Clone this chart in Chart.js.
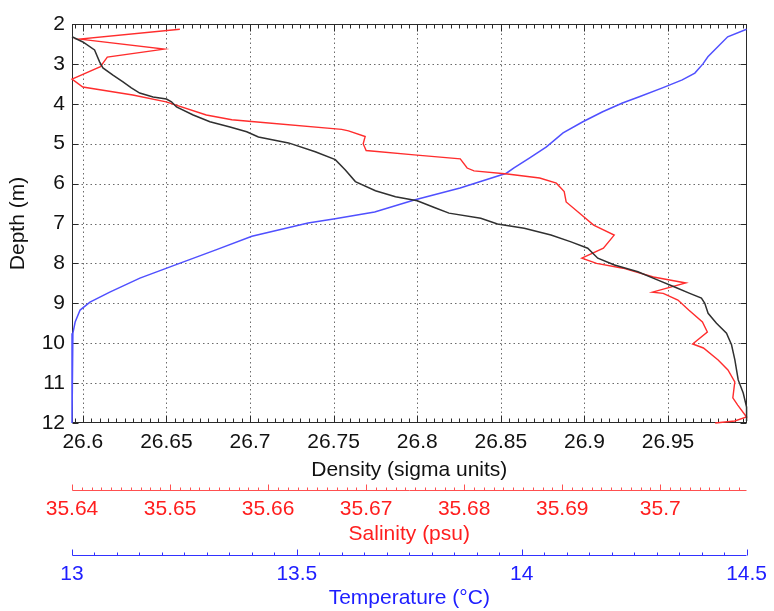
<!DOCTYPE html>
<html><head><meta charset="utf-8">
<script src="https://cdn.jsdelivr.net/npm/chart.js@4/dist/chart.umd.min.js"></script>
<style>html,body{margin:0;padding:0;background:#fff;}canvas{display:block;}</style>
</head><body>
<canvas id="c" width="774" height="611"></canvas>
<script>
// ---- data ----
const depthDensity = [2.32, 2.45, 2.65, 2.95, 3.10, 3.28, 3.45, 3.60, 3.73, 3.83, 3.88, 3.95, 4.08, 4.28, 4.45, 4.58, 4.70, 4.83, 4.98, 5.20, 5.40, 5.66, 5.95, 6.18, 6.33, 6.43, 6.61, 6.74, 6.87, 7.01, 7.12, 7.29, 7.46, 7.62, 7.87, 8.04, 8.21, 8.42, 8.59, 8.75, 8.87, 9.00, 9.25, 9.50, 9.75, 10.04, 10.42, 10.92, 11.25, 11.60, 11.95];
const density = [26.5935, 26.600, 26.607, 26.610, 26.612, 26.618, 26.624, 26.629, 26.634, 26.642, 26.650, 26.653, 26.656, 26.666, 26.676, 26.688, 26.698, 26.705, 26.723, 26.739, 26.751, 26.757, 26.763, 26.775, 26.787, 26.800, 26.811, 26.819, 26.838, 26.848, 26.864, 26.880, 26.892, 26.902, 26.908, 26.918, 26.932, 26.944, 26.954, 26.963, 26.970, 26.972, 26.974, 26.979, 26.985, 26.988, 26.990, 26.992, 26.995, 26.997, 26.997];

const depthSalinity = [2.13, 2.38, 2.63, 2.83, 3.07, 3.38, 3.58, 3.78, 3.95, 4.28, 4.40, 4.45, 4.64, 4.68, 4.82, 5.00, 5.17, 5.28, 5.38, 5.61, 5.68, 5.76, 5.86, 5.99, 6.20, 6.46, 6.75, 7.04, 7.29, 7.62, 7.87, 8.00, 8.12, 8.34, 8.49, 8.72, 8.75, 8.92, 9.17, 9.47, 9.72, 10.02, 10.12, 10.42, 10.67, 10.97, 11.37, 11.55, 11.85, 11.95, 12.00];
const salinity = [35.6510, 35.6408, 35.6494, 35.6436, 35.6429, 35.6400, 35.6411, 35.6462, 35.6496, 35.6537, 35.6563, 35.6586, 35.6675, 35.6682, 35.6699, 35.6697, 35.6700, 35.6749, 35.6796, 35.6803, 35.6810, 35.6844, 35.6877, 35.6894, 35.6902, 35.6904, 35.6918, 35.6932, 35.6953, 35.6942, 35.6920, 35.6935, 35.6962, 35.6993, 35.7026, 35.6992, 35.7003, 35.7018, 35.7029, 35.7043, 35.7048, 35.7033, 35.7044, 35.7059, 35.7069, 35.7076, 35.7074, 35.7079, 35.7088, 35.7076, 35.7056];

const depthTemperature = [2.13, 2.32, 2.57, 2.82, 3.00, 3.23, 3.40, 3.60, 3.83, 3.98, 4.20, 4.45, 4.73, 5.08, 5.36, 5.61, 5.74, 6.11, 6.41, 6.71, 6.88, 6.99, 7.32, 7.66, 8.00, 8.37, 8.72, 8.97, 9.17, 9.47, 9.75, 10.00, 10.50, 11.00, 11.50, 12.00];
const temperature = [14.500, 14.458, 14.436, 14.414, 14.403, 14.385, 14.357, 14.313, 14.260, 14.224, 14.180, 14.136, 14.092, 14.055, 14.017, 13.982, 13.966, 13.863, 13.761, 13.673, 13.585, 13.525, 13.400, 13.320, 13.239, 13.151, 13.084, 13.040, 13.018, 13.007, 13.002, 13.000, 13.000, 13.000, 13.000, 13.000];

// ---- axes / tick labels ----
const depthTicks = [2, 3, 4, 5, 6, 7, 8, 9, 10, 11, 12];
const densityTicks = [26.6, 26.65, 26.7, 26.75, 26.8, 26.85, 26.9, 26.95];
const salinityTicks = [35.64, 35.65, 35.66, 35.67, 35.68, 35.69, 35.7];
const temperatureTicks = [13, 13.5, 14, 14.5];
const densityRange = [26.5935, 26.997];
const salinityRange = [35.64, 35.7088];
const temperatureRange = [13, 14.5];
const depthRange = [2, 12];

const FONT = "'Liberation Sans', Arial, sans-serif";
Chart.defaults.font.family = FONT;
Chart.defaults.font.size = 21;

const RED = 'rgb(255,30,30)';
const BLUE = 'rgb(30,30,255)';

function pts(xv, yv) { return xv.map((v, i) => ({ x: v, y: yv[i] })); }
function setTicks(arr) { return s => { s.ticks = arr.map(v => ({ value: v })); }; }
function eachStep(min, max, step, fn) {
  const k0 = Math.ceil(min / step - 1e-6), k1 = Math.floor(max / step + 1e-6);
  for (let k = k0; k <= k1; k++) fn(k * step);
}
function isMajor(v, major) { const r = v / major; return Math.abs(r - Math.round(r)) < 1e-6; }

const decor = {
  id: 'decor',
  beforeDatasetsDraw(chart) {
    const { ctx, chartArea: a, scales } = chart;
    const { xd, xs, xt, y } = scales;
    const snap = p => Math.round(p) + 0.5;
    const seg = (x1, y1, x2, y2) => { ctx.beginPath(); ctx.moveTo(x1, y1); ctx.lineTo(x2, y2); ctx.stroke(); };
    const L = snap(a.left), R = snap(a.right - 1), T = snap(a.top), B = snap(a.bottom - 1);
    ctx.save();
    ctx.lineWidth = 1;
    // dotted grid
    ctx.strokeStyle = 'rgba(70,70,70,0.8)';
    ctx.setLineDash([1.5, 3]);
    densityTicks.forEach(v => { const p = snap(xd.getPixelForValue(v)); seg(p, T, p, B); });
    depthTicks.forEach(v => {
      if (v === depthRange[0] || v === depthRange[1]) return;
      const p = snap(y.getPixelForValue(v)); seg(L, p, R, p);
    });
    ctx.setLineDash([]);
    // box
    ctx.strokeStyle = '#2a2a2a';
    ctx.strokeRect(L, T, R - L, B - T);
    // density ticks (bottom & top, inward)
    eachStep(densityRange[0], densityRange[1], 0.005, v => {
      const p = snap(xd.getPixelForValue(v));
      const len = isMajor(v, 0.05) ? 7 : 4;
      seg(p, B, p, B - len);
      seg(p, T, p, T + len);
    });
    // depth ticks (left & right, inward)
    depthTicks.forEach(v => {
      const p = snap(y.getPixelForValue(v));
      seg(L, p, L + 6, p);
      seg(R, p, R - 6, p);
    });
    // salinity axis
    ctx.strokeStyle = 'rgb(255,80,80)';
    const ys = snap(xs.top);
    seg(L, ys, R, ys);
    eachStep(salinityRange[0], salinityRange[1], 0.001, v => {
      const p = snap(xs.getPixelForValue(v));
      seg(p, ys, p, ys - (isMajor(v, 0.01) ? 6 : 3));
    });
    // temperature axis
    ctx.strokeStyle = 'rgb(50,50,255)';
    const yt = snap(xt.top);
    seg(L, yt, R, yt);
    eachStep(temperatureRange[0], temperatureRange[1], 0.05, v => {
      const p = snap(xt.getPixelForValue(v));
      seg(p, yt, p, yt - (isMajor(v, 0.5) ? 6 : 3));
    });
    ctx.restore();
  }
};

function xAxis(weight, range, ticks, color, title, h, tickPad, titlePad) {
  return {
    type: 'linear', axis: 'x', position: 'bottom', weight: weight,
    min: range[0], max: range[1],
    afterBuildTicks: setTicks(ticks),
    afterFit: s => { s.height = h; },
    grid: { display: false, drawTicks: false },
    border: { display: false },
    ticks: { color: color, padding: tickPad, autoSkip: false, maxRotation: 0, minRotation: 0, callback: v => String(v) },
    title: { display: true, text: title, color: color, padding: { top: 0, bottom: titlePad } }
  };
}

new Chart(document.getElementById('c'), {
  type: 'line',
  data: {
    datasets: [
      { label: 'Density', data: pts(density, depthDensity), xAxisID: 'xd', yAxisID: 'y',
        borderColor: '#303030', borderWidth: 1.5, pointRadius: 0, tension: 0, fill: false, clip: 3 },
      { label: 'Salinity', data: pts(salinity, depthSalinity), xAxisID: 'xs', yAxisID: 'y',
        borderColor: 'rgb(255,45,45)', borderWidth: 1.4, pointRadius: 0, tension: 0, fill: false, clip: 3 },
      { label: 'Temperature', data: pts(temperature, depthTemperature), xAxisID: 'xt', yAxisID: 'y',
        borderColor: 'rgb(80,80,255)', borderWidth: 1.5, pointRadius: 0, tension: 0, fill: false, clip: 3 }
    ]
  },
  options: {
    responsive: false, animation: false, devicePixelRatio: 1,
    layout: { padding: { top: 24, right: 22, left: 0, bottom: 0 } },
    plugins: { legend: { display: false }, tooltip: { enabled: false } },
    scales: {
      y: {
        type: 'linear', axis: 'y', position: 'left', reverse: true,
        min: depthRange[0], max: depthRange[1],
        afterBuildTicks: setTicks(depthTicks),
        afterFit: s => { s.width = 72; },
        grid: { display: false, drawTicks: false },
        border: { display: false },
        ticks: { color: '#111', padding: 7, callback: v => String(v) },
        title: { display: true, text: 'Depth (m)', color: '#111', padding: { top: 6, bottom: 0 } }
      },
      xd: xAxis(0, densityRange, densityTicks, '#111', 'Density (sigma units)', 67, 7, 7),
      xs: xAxis(1, salinityRange, salinityTicks, RED, 'Salinity (psu)', 65, 7, 8),
      xt: xAxis(2, temperatureRange, temperatureTicks, BLUE, 'Temperature (°C)', 56, 7, 0)
    }
  },
  plugins: [decor]
});
</script>
</body></html>
